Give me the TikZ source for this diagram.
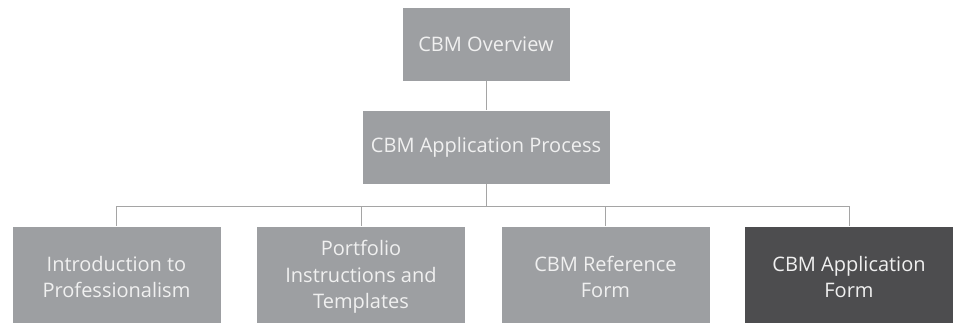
\documentclass[tikz,border=0pt]{standalone}
\usepackage{fontspec}
\setmainfont{Open Sans}
\definecolor{boxgray}{RGB}{157,159,162}
\definecolor{boxdark}{RGB}{77,77,79}
\definecolor{linkgray}{RGB}{165,165,165}
\definecolor{labelwhite}{RGB}{240,240,240}

\begin{document}
\begin{tikzpicture}[x=1pt, y=-1pt,
    box/.style={rectangle, fill=boxgray, draw=white, line width=0.6pt,
        text=labelwhite, align=center, inner sep=0pt,
        font=\fontsize{20}{26.7}\selectfont},
    topbox/.style={box, minimum width=168pt, minimum height=74pt},
    midbox/.style={box, minimum width=248pt, minimum height=74pt},
    leafbox/.style={box, minimum width=209pt, minimum height=102pt},
    link/.style={draw=linkgray, line width=0.9pt}]
% Frame (bottom row runs off the lower edge)
\clip (0,0) rectangle (954,323);
\fill[white] (0,0) rectangle (954,323);
% Upper levels
\node[topbox] (overview) at (486,44) {CBM Overview};
\node[midbox] (process) at (486,147) {CBM Application Process};
% Bottom row
\node[leafbox] (intro) at (116.5,277) {Introduction to\\Professionalism};
\node[leafbox] (portfolio) at (361,277) {Portfolio\\Instructions and\\Templates};
\node[leafbox] (refform) at (605.5,277) {CBM Reference\\Form};
\node[leafbox, fill=boxdark] (appform) at (849,277) {CBM Application\\Form};
% Connectors
\coordinate (bus) at (486,206);
\draw[link] (overview.south) -- (process.north);
\draw[link] (process.south) -- (bus);
\foreach \leaf in {intro, portfolio, refform, appform}
    \draw[link] (bus) -| (\leaf.north);
\end{tikzpicture}
\end{document}
